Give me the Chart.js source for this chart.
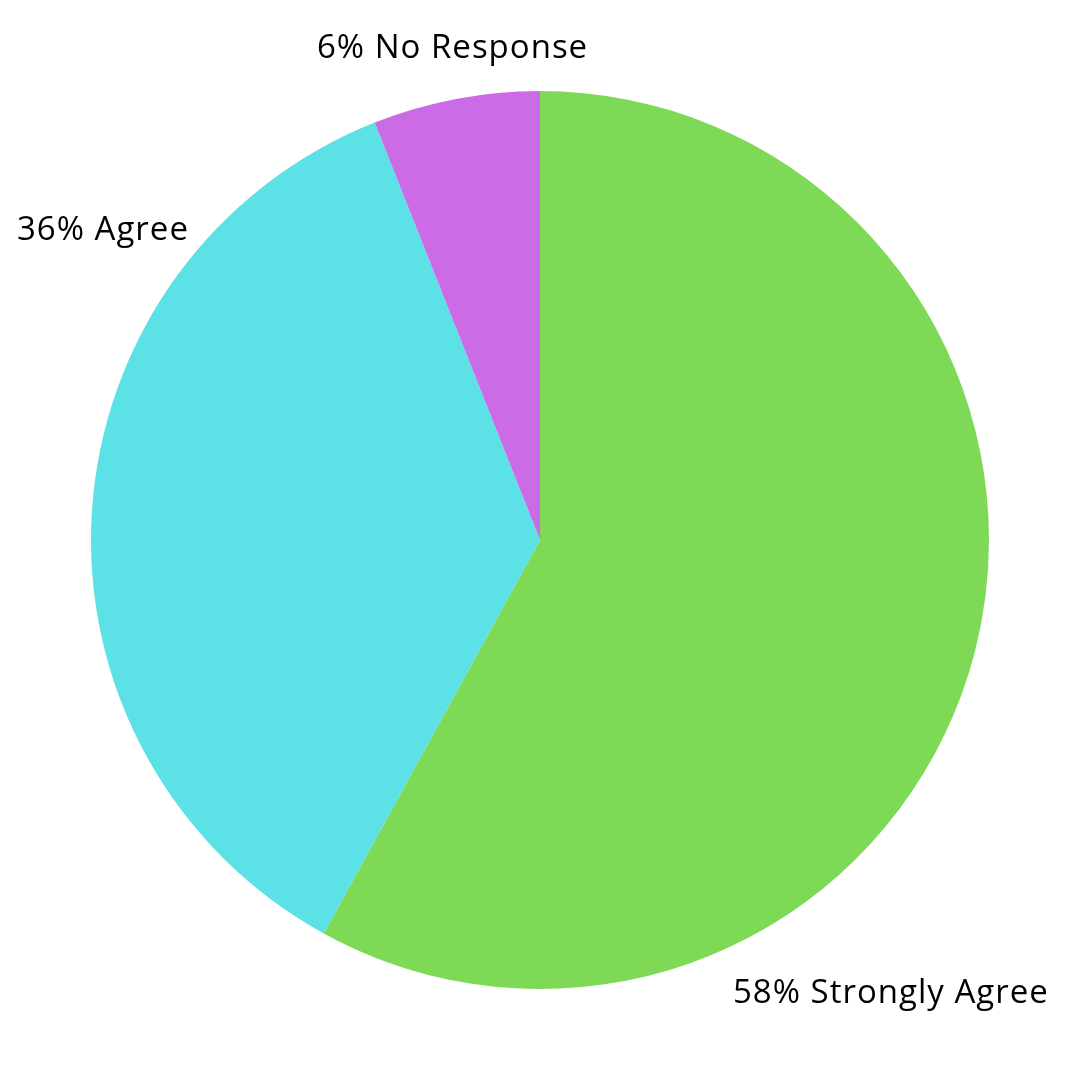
<!DOCTYPE html>
<html>
<head>
<meta charset="utf-8">
<script src="https://cdn.jsdelivr.net/npm/chart.js@4/dist/chart.umd.min.js"></script>
<style>
  html, body { margin: 0; padding: 0; background: #fff; }
  #wrap { width: 1080px; height: 1080px; }
</style>
</head>
<body>
<div id="wrap"><canvas id="pie"></canvas></div>
<script>
const categories = ['Strongly Agree', 'Agree', 'No Response'];
const shares = [58, 36, 6];
const sliceColors = ['#7ED957', '#5CE1E6', '#CB6CE6'];

// text spots, offset from the pie centre
const labelSpots = [
  { dx: 193, dy: 463 },
  { dx: -523, dy: -300 },
  { dx: -223, dy: -482 }
];

const sliceLabels = {
  id: 'sliceLabels',
  afterDraw(chart) {
    const ctx = chart.ctx;
    const arc = chart.getDatasetMeta(0).data[0];
    ctx.save();
    ctx.font = '33px "Open Sans"';
    ctx.letterSpacing = '1px';
    ctx.fillStyle = '#000';
    ctx.textAlign = 'left';
    ctx.textBaseline = 'alphabetic';
    categories.forEach((c, i) => {
      ctx.fillText(shares[i] + '% ' + c, arc.x + labelSpots[i].dx, arc.y + labelSpots[i].dy);
    });
    ctx.restore();
  }
};

new Chart(document.getElementById('pie').getContext('2d'), {
  type: 'pie',
  data: {
    labels: categories,
    datasets: [{
      data: shares,
      backgroundColor: sliceColors,
      borderWidth: 0
    }]
  },
  options: {
    responsive: true,
    maintainAspectRatio: false,
    animation: false,
    layout: { padding: 91 },
    plugins: { legend: { display: false }, tooltip: { enabled: false } }
  },
  plugins: [sliceLabels]
});
</script>
</body>
</html>
